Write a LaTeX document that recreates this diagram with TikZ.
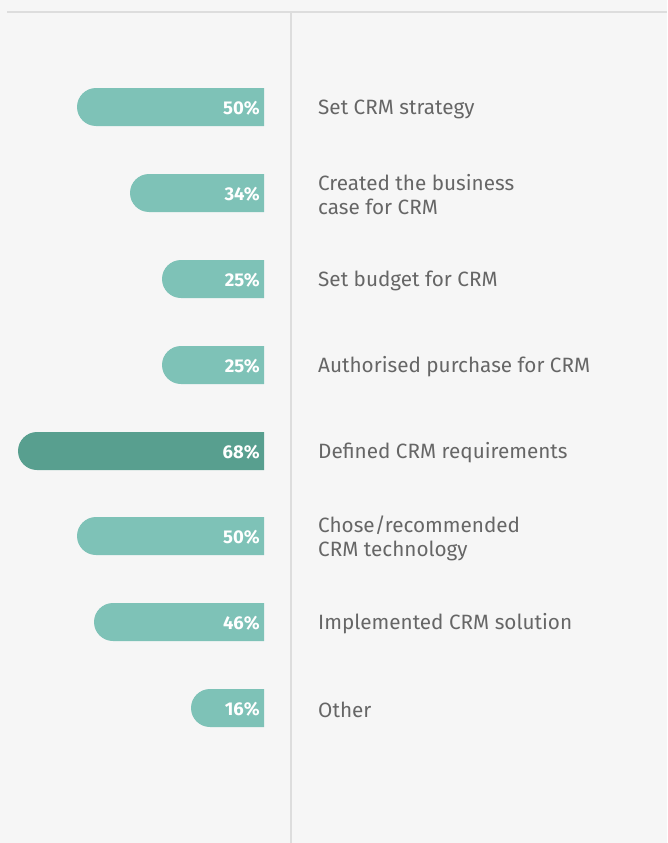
\documentclass[tikz,border=0pt]{standalone}
\usepackage{fontspec}
\setmainfont{Fira Sans}
\usetikzlibrary{positioning}
\definecolor{barlight}{HTML}{7EC2B7}
\definecolor{bardark}{HTML}{589F8F}
\definecolor{labelgray}{HTML}{666666}
\definecolor{rulegray}{HTML}{DDDDDD}
\definecolor{bggray}{HTML}{F6F6F6}

\begin{document}
\begin{tikzpicture}[x=1pt,y=-1pt,
    rule/.style={draw=rulegray,line width=2.5pt},
    value node/.style={anchor=east,text=white,inner sep=0pt,font=\fontsize{18.5}{18.5}\selectfont\bfseries},
    label node/.style={anchor=west,text=labelgray,inner sep=0pt,align=left,font=\fontsize{20.7}{24}\selectfont}]

  \fill[bggray] (0,0) rectangle (667,843);
  \useasboundingbox (0,0) rectangle (667,843);

  \coordinate (top left) at (7,12);
  \coordinate (top right) at (667,12);
  \coordinate (axis top) at (291,12);
  \coordinate (axis bottom) at (291,843);
  \draw[rule] (top left) -- (top right);
  \draw[rule] (axis top) -- (axis bottom);

  \foreach \c/\l/\v/\col/\t [count=\i] in {
      107/77/50/barlight/{Set CRM strategy},
      193/130/34/barlight/{Created the business\\case for CRM},
      279/162/25/barlight/{Set budget for CRM},
      365/162/25/barlight/{Authorised purchase for CRM},
      451/18/68/bardark/{Defined CRM requirements},
      536/77/50/barlight/{Chose/recommended\\CRM technology},
      622/94/46/barlight/{Implemented CRM solution},
      708/191/16/barlight/{Other}}
  {
    \fill[\col] (264,\c-19) {[rounded corners=19pt] -- (\l,\c-19) -- (\l,\c+19)} -- (264,\c+19) -- cycle;
    \node[value node] (val\i) at (260,\c+1) {\v\%};
    \node[label node] (lab\i) at (318,\c+2) {\t};
  }

\end{tikzpicture}
\end{document}
